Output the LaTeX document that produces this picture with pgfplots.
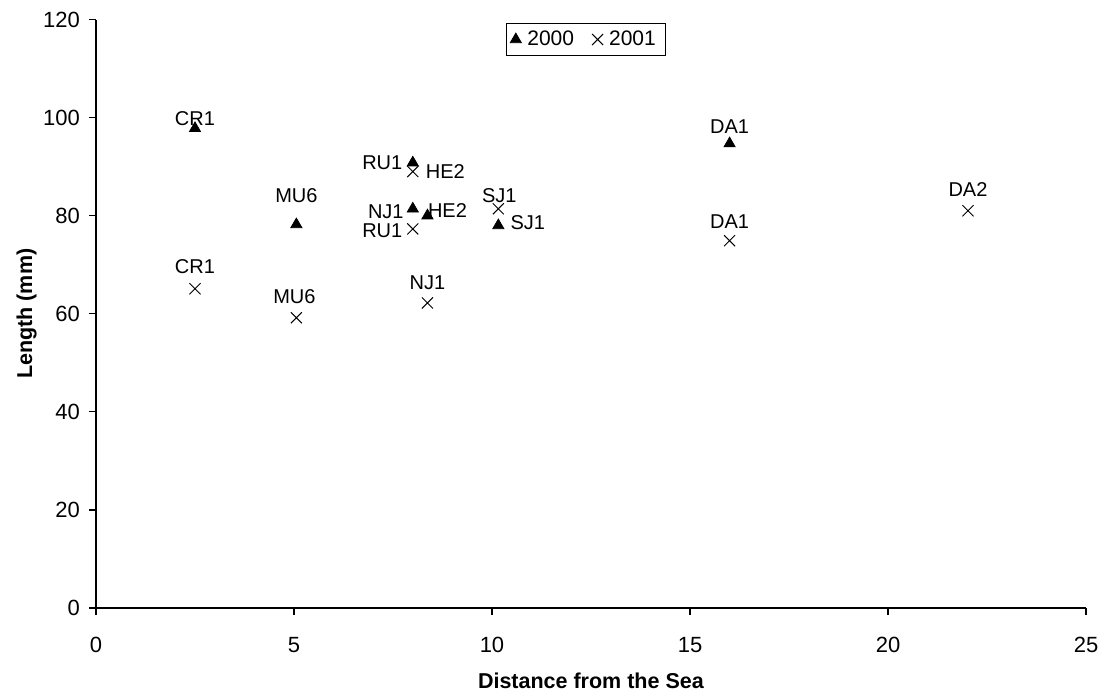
\documentclass[border=0pt]{standalone}
\usepackage{pgfplots}
\pgfplotsset{compat=1.18}
\usepackage{pgfplotstable}
\usepackage{fontspec}
\setmainfont{Liberation Sans}

\pgfplotstableread{
x     y     lab  dx      dy
2.5   97.8  CR1  0       1.5
8.0   90.8  RU1  -15.25  -3.5
5.06  78.2  MU6  0       11
8.0   81.4  NJ1  -13.5   -5
8.37  80.0  HE2  10      -1
10.16 78.0  SJ1  14.75   -2
16.0  94.7  DA1  0       5
}\tabA

\pgfplotstableread{
x     y     lab  dx      dy
2.5   65.1  CR1  0       7.5
5.06  59.2  MU6  -1      7
8.0   89.0  HE2  16.25   -3.5
8.0   77.3  RU1  -15.25  -4.5
8.37  62.2  NJ1  0       6.5
10.16 81.4  SJ1  0.5     3
16.0  74.9  DA1  0       6
22.02 81.0  DA2  0       7
}\tabB

\begin{document}
\begin{tikzpicture}
\begin{axis}[
  name=ax,
  scale only axis,
  width=495pt, height=294.25pt,
  xmin=0, xmax=25, ymin=0, ymax=120,
  xtick={0,5,...,25}, ytick={0,20,...,120},
  axis x line*=bottom, axis y line*=left,
  axis line style={line width=0.6pt},
  tick style={line width=0.6pt, black},
  tick align=outside,
  major tick length=3.5pt,
  xtick pos=left, ytick pos=left,
  /pgf/number format/assume math mode=true,
  ticklabel style={font=\fontsize{11}{13}\selectfont},
  xticklabel style={yshift=-7.5pt},
  yticklabel style={xshift=-1pt},
  xlabel={\textbf{Distance from the Sea}},
  ylabel={\textbf{Length (mm)}},
  label style={font=\fontsize{10.75}{12}\selectfont},
  xlabel style={at={(axis description cs:0.5,-0.1376)}, anchor=base},
  ylabel style={at={(axis description cs:-0.0646,0.5)}, anchor=base, rotate=0},
  clip=false,
  legend columns=2,
  legend style={at={(axis description cs:0.495,0.966)}, anchor=center,
    draw=black, line width=0.5pt, font=\fontsize{10.5}{12}\selectfont,
    inner xsep=2pt, inner ysep=1.5pt,
    nodes={inner xsep=3pt, inner ysep=2pt},
    /tikz/every even column/.append style={column sep=6pt}},
  legend image code/.code={\draw[#1] plot coordinates {(0pt,0pt)};},
]
\addplot[only marks, mark=triangle*, mark size=3.2pt,
  mark options={fill=black, draw=black, line width=0.4pt},
  nodes near coords, point meta=explicit symbolic,
  visualization depends on={\thisrow{dx}\as\myDx},
  visualization depends on={\thisrow{dy}\as\myDy},
  every node near coord/.append style={anchor=base, inner sep=0pt,
    xshift=\myDx pt, yshift=\myDy pt, font=\fontsize{10}{12}\selectfont, black},
] table[x=x, y=y, meta=lab] {\tabA};
\addlegendentry{2000}
\addplot[only marks, mark=x, mark size=3.9pt,
  mark options={draw=black, line width=0.5pt},
  nodes near coords, point meta=explicit symbolic,
  visualization depends on={\thisrow{dx}\as\myDx},
  visualization depends on={\thisrow{dy}\as\myDy},
  every node near coord/.append style={anchor=base, inner sep=0pt,
    xshift=\myDx pt, yshift=\myDy pt, font=\fontsize{10}{12}\selectfont, black},
] table[x=x, y=y, meta=lab] {\tabB};
\addlegendentry{2001}
\end{axis}
\path[use as bounding box] ([xshift=-48pt, yshift=-42.5pt]ax.south west) rectangle ([xshift=11pt, yshift=9.75pt]ax.north east);
\end{tikzpicture}
\end{document}
